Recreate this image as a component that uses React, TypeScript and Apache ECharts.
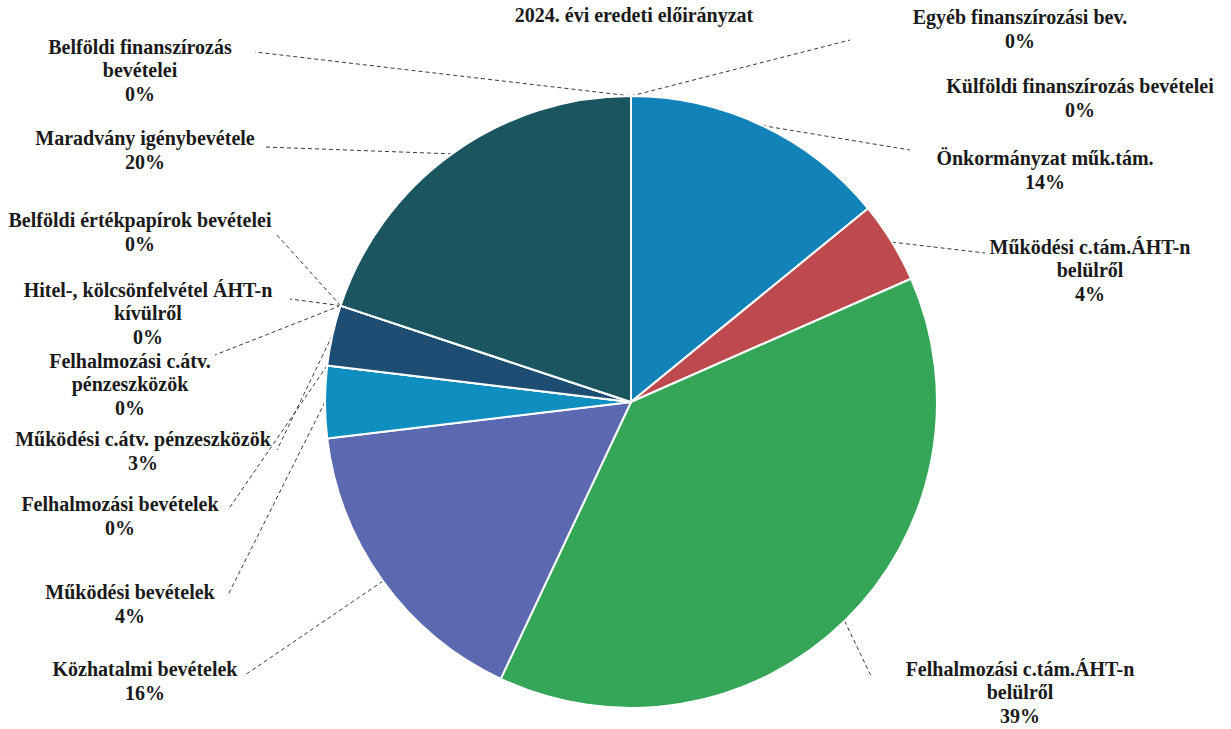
import React, { useEffect, useRef } from "react";
import * as echarts from "echarts";

const TITLE = "2024. évi eredeti előirányzat";

const CATEGORIES = [
  "Önkormányzat műk.tám.",
  "Működési c.tám.ÁHT-n belülről",
  "Felhalmozási c.tám.ÁHT-n belülről",
  "Közhatalmi bevételek",
  "Működési bevételek",
  "Felhalmozási bevételek",
  "Működési c.átv. pénzeszközök",
  "Felhalmozási c.átv. pénzeszközök",
  "Hitel-, kölcsönfelvétel ÁHT-n kívülről",
  "Belföldi értékpapírok bevételei",
  "Maradvány igénybevétele",
  "Belföldi finanszírozás bevételei",
  "Külföldi finanszírozás bevételei",
  "Egyéb finanszírozási bev.",
];

const VALUES = [14.1, 4.3, 38.6, 16.1, 3.8, 0, 3.2, 0, 0, 0, 19.9, 0, 0, 0];

// number of words on the first label line (0 = single line)
const BREAK_AFTER = [0, 2, 2, 0, 0, 0, 0, 2, 3, 0, 0, 2, 0, 0];

const COLORS = [
  "#1283b8",
  "#bf4a4e",
  "#35a558",
  "#5b69b0",
  "#0f8fc0",
  "#2a7fa8",
  "#1d4d72",
  "#2b6e8a",
  "#24607a",
  "#1c5a6a",
  "#1a5560",
  "#1e6670",
  "#2a7a80",
  "#3a8a90",
];

// label layout: [centerX, centerY, leaderEndX, leaderEndY]
const LABEL_LAYOUT: number[][] = [
  [1045, 170, 910, 150],
  [1090, 270, 985, 253],
  [1020, 692, 872, 678],
  [145, 681, 245, 675],
  [130, 604, 228, 595],
  [120, 516, 228, 510],
  [143, 451, 277, 450],
  [130, 384, 215, 355],
  [148, 313, 290, 299],
  [140, 232, 277, 235],
  [145, 150, 265, 147],
  [140, 70, 255, 52],
  [1080, 98, -1, -1],
  [1020, 29, 850, 40],
];

const CENTER = [631, 402];
const RADIUS = 306;
const FONT = "'Liberation Serif', 'DejaVu Serif', 'Times New Roman', serif";

function wrapName(name: string, idx: number): string {
  const n = BREAK_AFTER[idx];
  if (!n) return name;
  const words = name.split(" ");
  return words.slice(0, n).join(" ") + "\n" + words.slice(n).join(" ");
}

export default function App() {
  const ref = useRef<HTMLDivElement>(null);
  useEffect(() => {
    document.body.style.margin = "0";
    const chart = echarts.init(ref.current!, null, { renderer: "svg" });
    const total = VALUES.reduce((a, b) => a + b, 0);
    const edgePoint = (idx: number) => {
      let acc = 0;
      for (let i = 0; i < idx; i++) acc += VALUES[i];
      const mid = acc + VALUES[idx] / 2;
      const ang = (mid / total) * Math.PI * 2;
      return [CENTER[0] + RADIUS * Math.sin(ang), CENTER[1] - RADIUS * Math.cos(ang)];
    };
    chart.setOption({
      animation: false,
      backgroundColor: "#ffffff",
      title: {
        text: TITLE,
        left: 629,
        top: 0,
        textAlign: "center",
        textStyle: {
          fontFamily: FONT,
          fontWeight: "bold",
          fontSize: 20,
          color: "#1a1a1a",
        },
      },
      series: [
        {
          type: "pie",
          center: CENTER,
          radius: RADIUS,
          startAngle: 90,
          clockwise: true,
          silent: true,
          avoidLabelOverlap: false,
          minShowLabelAngle: 0,
          data: CATEGORIES.map((name, i) => ({
            name,
            value: VALUES[i],
            itemStyle: { color: COLORS[i] },
          })),
          itemStyle: { borderColor: "#ffffff", borderWidth: 2 },
          label: {
            show: true,
            position: "outside",
            formatter: (p: any) =>
              wrapName(p.name, p.dataIndex) + "\n" + Math.round(p.percent) + "%",
            fontFamily: FONT,
            fontWeight: "bold",
            fontSize: 20,
            lineHeight: 23.5,
            color: "#1a1a1a",
            align: "center",
          },
          labelLine: {
            show: true,
            lineStyle: { color: "#3a3a3a", width: 1, type: [4, 3] },
          },
          labelLayout: (p: any) => {
            const L = LABEL_LAYOUT[p.dataIndex];
            const start =
              p.labelLinePoints && p.labelLinePoints[0]
                ? p.labelLinePoints[0]
                : edgePoint(p.dataIndex);
            const end = L[2] < 0 ? start : [L[2], L[3]];
            return {
              x: L[0],
              y: L[1],
              align: "center",
              verticalAlign: "middle",
              hideOverlap: false,
              labelLinePoints: [start, end, end],
            };
          },
          emphasis: { disabled: true },
        },
      ],
    });
    return () => chart.dispose();
  }, []);
  return <div ref={ref} style={{ width: 1231, height: 729 }} />;
}
